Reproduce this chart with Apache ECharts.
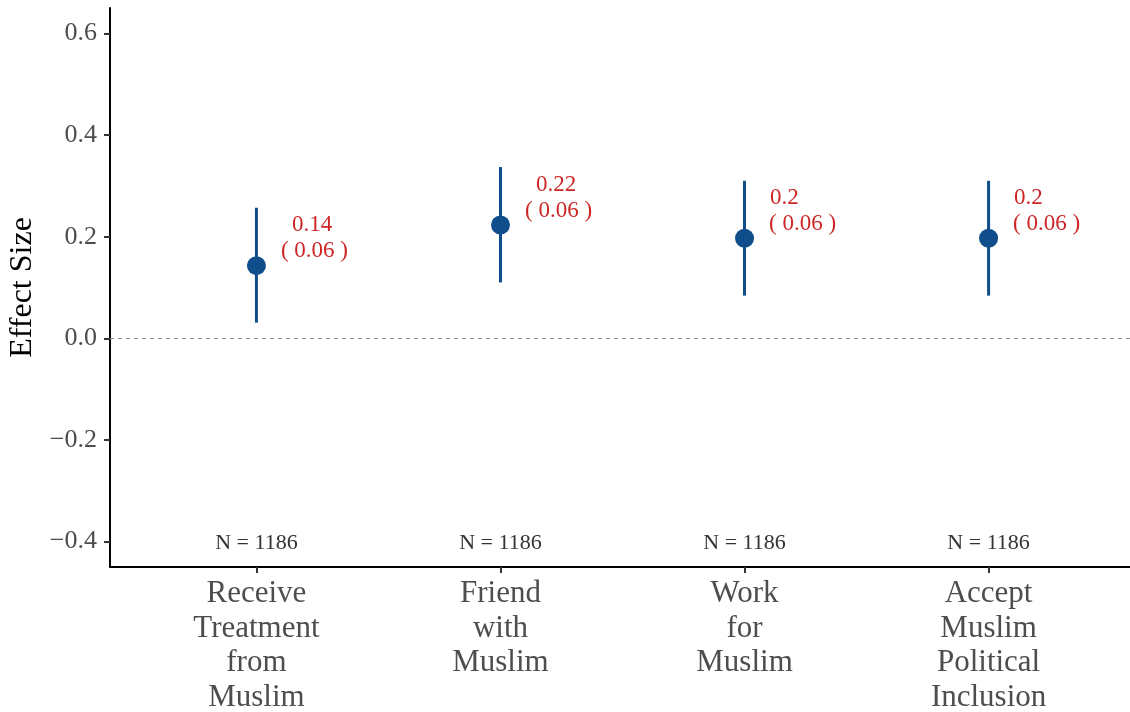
<!DOCTYPE html>
<html>
<head>
<meta charset="utf-8">
<script src="https://cdn.jsdelivr.net/npm/echarts@6/dist/echarts.min.js"></script>
<style>
  html, body { margin: 0; padding: 0; background: #fff; }
  #chart { width: 1130px; height: 712px; }
</style>
</head>
<body>
<div id="chart"></div>
<script>
// Outcome categories (x axis), one per estimated effect
const categories = [
  'Receive\nTreatment\nfrom\nMuslim',
  'Friend\nwith\nMuslim',
  'Work\nfor\nMuslim',
  'Accept\nMuslim\nPolitical\nInclusion'
];
// Point estimates, standard errors and 95% confidence bounds
const estimates = [0.143, 0.223, 0.197, 0.197];
const stdErrors = [0.058, 0.058, 0.058, 0.058];
const ciLow = [0.031, 0.110, 0.084, 0.084];
const ciHigh = [0.257, 0.337, 0.310, 0.310];
// Sample sizes shown along the bottom of the panel
const sampleSizes = [1186, 1186, 1186, 1186];
// Y axis tick values
const yTicks = [-0.4, -0.2, 0.0, 0.2, 0.4, 0.6];

const FONT = '"Liberation Serif", "DejaVu Serif", serif';
const BLUE = '#104E8B';
const RED = '#CD2626';
const GREY_TEXT = '#4D4D4D';

const xPos = categories.map((c, i) => i + 1);

function fmtTick(v) {
  const s = Math.abs(v).toFixed(1);
  return v < -1e-9 ? '\u2212' + s : s;
}
function fmtEst(v) {
  return String(Math.round(v * 100) / 100);
}

const chart = echarts.init(document.getElementById('chart'), null, { renderer: 'canvas' });

const option = {
  backgroundColor: '#ffffff',
  animation: false,
  grid: { left: 110, top: 8, width: 1025, bottom: 145, containLabel: false, outerBoundsMode: 'none' },
  xAxis: {
    type: 'value',
    min: 0.4,
    max: 4.6,
    splitLine: { show: false },
    axisLine: { show: true, onZero: false, lineStyle: { color: '#000', width: 2 } },
    axisTick: { show: true, length: 6, customValues: xPos, lineStyle: { color: '#333', width: 2 } },
    axisLabel: {
      customValues: xPos,
      formatter: v => categories[Math.round(v) - 1] || '',
      fontFamily: FONT,
      fontSize: 31,
      lineHeight: 34.5,
      color: GREY_TEXT,
      margin: 10,
      align: 'center'
    }
  },
  yAxis: {
    type: 'value',
    min: -0.45,
    max: 0.65,
    name: 'Effect Size',
    nameLocation: 'middle',
    nameRotate: 90,
    nameGap: 68,
    nameTextStyle: { fontFamily: FONT, fontSize: 32, color: '#000' },
    splitLine: { show: false },
    axisLine: { show: true, onZero: false, lineStyle: { color: '#000', width: 2 } },
    axisTick: { show: true, length: 6, customValues: yTicks, lineStyle: { color: '#333', width: 2 } },
    axisLabel: {
      customValues: yTicks,
      formatter: fmtTick,
      fontFamily: FONT,
      fontSize: 26,
      color: GREY_TEXT,
      margin: 13
    }
  },
  series: [
    {
      // confidence intervals
      type: 'custom',
      data: xPos.map((x, i) => [x, ciLow[i], ciHigh[i]]),
      renderItem: (params, api) => {
        const lo = api.coord([api.value(0), api.value(1)]);
        const hi = api.coord([api.value(0), api.value(2)]);
        return {
          type: 'line',
          shape: { x1: lo[0], y1: lo[1], x2: hi[0], y2: hi[1] },
          style: { stroke: BLUE, lineWidth: 3 }
        };
      },
      z: 2
    },
    {
      // point estimates with value / standard error annotation
      type: 'scatter',
      data: xPos.map((x, i) => [x, estimates[i], stdErrors[i]]),
      symbol: 'circle',
      symbolSize: 19,
      itemStyle: { color: BLUE, opacity: 1 },
      z: 3,
      label: {
        show: true,
        position: [34, -18],
        align: 'left',
        verticalAlign: 'middle',
        formatter: p => {
          const est = fmtEst(p.value[1]);
          const indent = est.length >= 4 ? 'w' : 'n';
          return '{' + indent + '|}{a|' + est + '}\n{b|( ' + p.value[2].toFixed(2) + ' )}';
        },
        rich: {
          w: { width: 11 },
          n: { width: 1 },
          a: { fontFamily: FONT, fontSize: 23, color: RED, lineHeight: 26 },
          b: { fontFamily: FONT, fontSize: 23, color: RED, lineHeight: 26 }
        }
      }
    },
    {
      // sample sizes, plus the zero reference line
      type: 'scatter',
      data: xPos.map((x, i) => [x, -0.4, sampleSizes[i]]),
      symbolSize: 1,
      itemStyle: { color: 'transparent' },
      label: {
        show: true,
        position: 'inside',
        offset: [0, 2],
        formatter: p => 'N = ' + p.value[2],
        fontFamily: FONT,
        fontSize: 22,
        color: '#333333',
        opacity: 1
      },
      markLine: {
        silent: true,
        symbol: 'none',
        label: { show: false },
        lineStyle: { color: '#8c8c8c', width: 1, type: [4, 4] },
        data: [{ yAxis: 0 }]
      },
      z: 1
    }
  ]
};

chart.setOption(option);
</script>
</body>
</html>
